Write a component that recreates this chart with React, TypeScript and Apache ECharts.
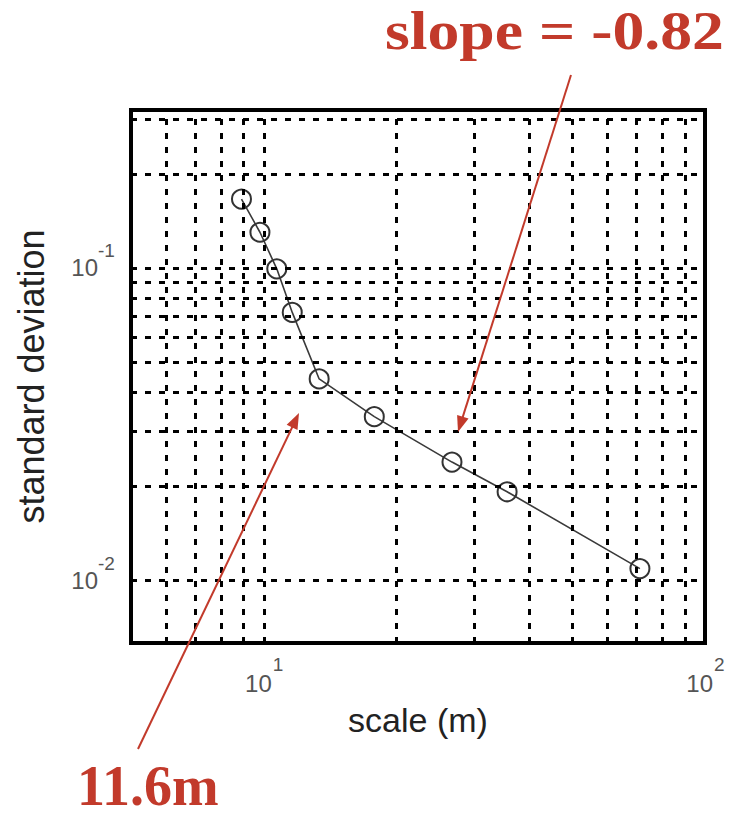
import React, { useEffect, useRef } from "react";
import * as echarts from "echarts";

// ---- data ----
const scaleM = [8.9, 9.8, 10.7, 11.6, 13.35, 17.8, 26.7, 35.6, 71.2];
const stdDev = [0.166, 0.13, 0.0993, 0.072, 0.0441, 0.0334, 0.0239, 0.0192, 0.0109];
const xGridValues = [6, 7, 8, 9, 10, 20, 30, 40, 50, 60, 70, 80, 90];
const yGridValues = [0.007, 0.008, 0.009, 0.01, 0.02, 0.03, 0.04, 0.05, 0.06, 0.07, 0.08, 0.09, 0.1, 0.2, 0.3];
const xRange = [5, 100];
const yRange = [0.0063, 0.32];
const xTickValues = [10, 100];
const xTickExponents = ["1", "2"];
const yTickValues = [0.1, 0.01];
const yTickExponents = ["-1", "-2"];
const xTitle = "scale (m)";
const yTitle = "standard deviation";
const slopeNote = "slope = -0.82";
const kneeNote = "11.6m";

const RED = "#c23a2b";
const SANS = "'Liberation Sans', Arial, sans-serif";
const SERIF = "'Liberation Serif', 'Times New Roman', serif";
const TICK_GREY = "#555";

function arrow(sx: number, sy: number, tx: number, ty: number) {
  const dx = tx - sx;
  const dy = ty - sy;
  const len = Math.sqrt(dx * dx + dy * dy);
  const ux = dx / len;
  const uy = dy / len;
  const nx = -uy;
  const ny = ux;
  const hl = 16;
  const hw = 6;
  const bx = tx - ux * hl;
  const by = ty - uy * hl;
  return [
    {
      type: "line",
      shape: { x1: sx, y1: sy, x2: bx + ux * 2, y2: by + uy * 2 },
      style: { stroke: RED, lineWidth: 2 },
      z: 100,
    },
    {
      type: "polygon",
      shape: { points: [[tx, ty], [bx + nx * hw, by + ny * hw], [bx - nx * hw, by - ny * hw]] },
      style: { fill: RED },
      z: 100,
    },
  ];
}

function tickText(text: string, x: number, y: number, size: number, align: string) {
  return {
    type: "text",
    x,
    y,
    z: 50,
    style: {
      text,
      font: `${size}px ${SANS}`,
      fill: TICK_GREY,
      align,
      verticalAlign: "middle",
    },
  };
}

export default function App() {
  const ref = useRef<HTMLDivElement>(null);

  useEffect(() => {
    document.body.style.margin = "0";
    if (!ref.current) return;
    const chart = echarts.init(ref.current, undefined, { renderer: "svg" });

    const option: any = {
      animation: false,
      backgroundColor: "#fff",
      grid: {
        show: true,
        left: 131,
        top: 110,
        right: 40,
        bottom: 176,
        borderColor: "#000",
        borderWidth: 4,
        backgroundColor: "#fff",
      },
      xAxis: {
        type: "log",
        logBase: 10,
        min: xRange[0],
        max: xRange[1],
        name: xTitle,
        nameLocation: "middle",
        nameGap: 60,
        nameTextStyle: { fontSize: 34, color: "#222", fontFamily: "Liberation Sans" },
        axisLine: { show: false },
        axisTick: { show: false },
        splitLine: { show: false },
        axisLabel: { show: false },
      },
      yAxis: {
        type: "log",
        logBase: 10,
        min: yRange[0],
        max: yRange[1],
        name: yTitle,
        nameLocation: "middle",
        nameGap: 82,
        nameRotate: 90,
        nameTextStyle: { fontSize: 36, color: "#222", fontFamily: "Liberation Sans" },
        axisLine: { show: false },
        axisTick: { show: false },
        splitLine: { show: false },
        axisLabel: { show: false },
      },
      series: [
        {
          type: "line",
          data: [],
          silent: true,
          z: 1,
          markLine: {
            silent: true,
            symbol: ["none", "none"],
            label: { show: false },
            lineStyle: { color: "#000", width: 3, type: [6, 8], opacity: 1 },
            emphasis: { disabled: true },
            data: [
              ...xGridValues.map((v) => ({ xAxis: v })),
              ...yGridValues.map((v) => ({ yAxis: v })),
            ],
          },
        },
        {
          type: "line",
          z: 3,
          data: scaleM.map((x, i) => [x, stdDev[i]]),
          symbol: "circle",
          symbolSize: 19,
          lineStyle: { color: "#3a3a3a", width: 1.6 },
          itemStyle: { color: "rgba(0,0,0,0)", borderColor: "#333", borderWidth: 2 },
        },
      ],
    };

    chart.setOption(option);

    // tick labels (10^n) positioned through the axes' own scales
    const bottomY = chart.convertToPixel({ yAxisIndex: 0 }, yRange[0]) as number;
    const leftX = chart.convertToPixel({ xAxisIndex: 0 }, xRange[0]) as number;
    const tickGraphics: any[] = [];
    xTickValues.forEach((v, i) => {
      const px = chart.convertToPixel({ xAxisIndex: 0 }, v) as number;
      tickGraphics.push(tickText("10", px + 8, bottomY + 40, 24, "right"));
      tickGraphics.push(tickText(xTickExponents[i], px + 9, bottomY + 21, 19, "left"));
    });
    yTickValues.forEach((v, i) => {
      const py = chart.convertToPixel({ yAxisIndex: 0 }, v) as number;
      tickGraphics.push(tickText("10", leftX - 33, py, 24, "right"));
      tickGraphics.push(tickText(yTickExponents[i], leftX - 33, py - 17, 19, "left"));
    });

    chart.setOption({
      graphic: [
        ...tickGraphics,
        {
          type: "text",
          x: 385,
          y: 31,
          scaleX: 1.18,
          z: 100,
          style: {
            text: slopeNote,
            font: `bold 54px ${SERIF}`,
            fill: RED,
            align: "left",
            verticalAlign: "middle",
          },
        },
        {
          type: "text",
          x: 77,
          y: 786,
          z: 100,
          style: {
            text: kneeNote,
            font: `bold 56px ${SERIF}`,
            fill: RED,
            align: "left",
            verticalAlign: "middle",
          },
        },
        ...arrow(571, 75, 458, 432),
        ...arrow(138, 749, 299, 413),
      ],
    });

    return () => {
      chart.dispose();
    };
  }, []);

  return <div ref={ref} style={{ width: 745, height: 819 }} />;
}
